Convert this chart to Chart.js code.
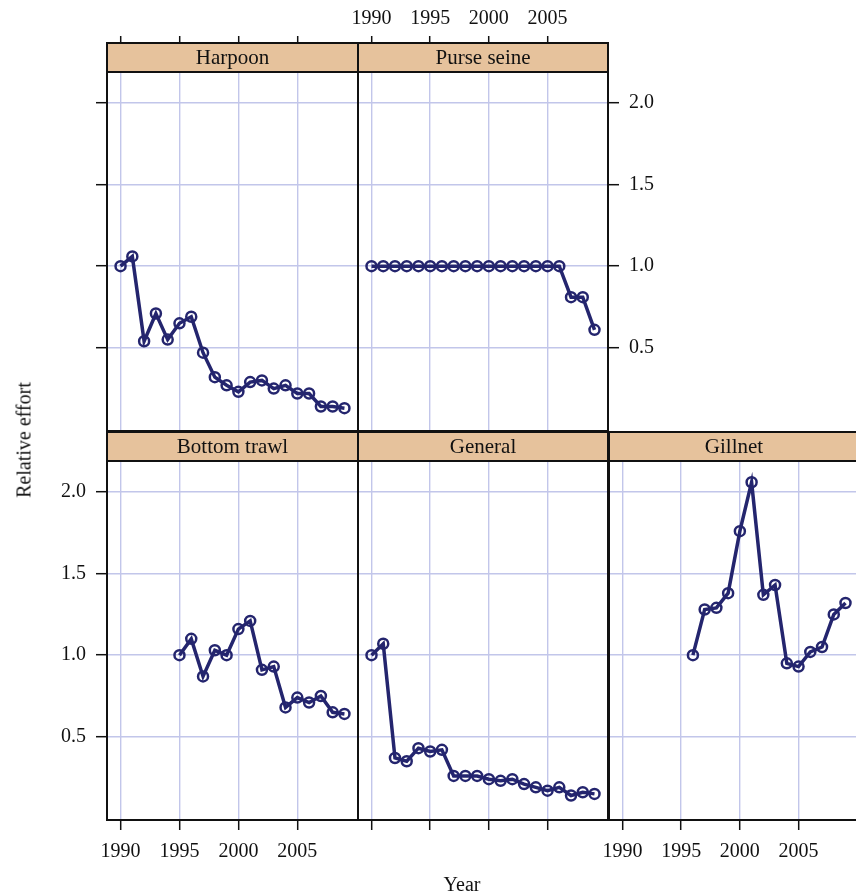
<!DOCTYPE html>
<html>
<head>
<meta charset="utf-8">
<script src="https://cdn.jsdelivr.net/npm/chart.js@4.4.0/dist/chart.umd.min.js"></script>
<style>
  html, body { margin: 0; padding: 0; background: #fff; overflow: hidden; width: 856px; height: 894px; }
  #wrap { position: relative; width: 856px; height: 894px; }
  canvas { position: absolute; left: 0; top: 0; }
  .axis-title { position: absolute; font-family: "Liberation Serif", serif; font-size: 20px; color: #111; white-space: nowrap; }
  #ylab { left: 24px; top: 440px; transform: translate(-50%, -50%) rotate(-90deg); }
  #xlab { left: 462px; top: 884px; transform: translate(-50%, -50%); }
</style>
</head>
<body>
<div id="wrap">
  <canvas id="p0" width="880" height="894"></canvas>
  <canvas id="p1" width="880" height="894"></canvas>
  <canvas id="p2" width="880" height="894"></canvas>
  <canvas id="p3" width="880" height="894"></canvas>
  <canvas id="p4" width="880" height="894"></canvas>
  <div class="axis-title" id="ylab">Relative effort</div>
  <div class="axis-title" id="xlab">Year</div>
</div>
<script>
// data
const years = [1990, 1991, 1992, 1993, 1994, 1995, 1996, 1997, 1998, 1999,
               2000, 2001, 2002, 2003, 2004, 2005, 2006, 2007, 2008, 2009];
const harpoon = [1.00, 1.06, 0.54, 0.71, 0.55, 0.65, 0.69, 0.47, 0.32, 0.27,
                 0.23, 0.29, 0.30, 0.25, 0.27, 0.22, 0.22, 0.14, 0.14, 0.13];
const purseSeine = [1.00, 1.00, 1.00, 1.00, 1.00, 1.00, 1.00, 1.00, 1.00, 1.00,
                    1.00, 1.00, 1.00, 1.00, 1.00, 1.00, 1.00, 0.81, 0.81, 0.61];
const bottomTrawl = [null, null, null, null, null, 1.00, 1.10, 0.87, 1.03, 1.00,
                     1.16, 1.21, 0.91, 0.93, 0.68, 0.74, 0.71, 0.75, 0.65, 0.64];
const general = [1.00, 1.07, 0.37, 0.35, 0.43, 0.41, 0.42, 0.26, 0.26, 0.26,
                 0.24, 0.23, 0.24, 0.21, 0.19, 0.17, 0.19, 0.14, 0.16, 0.15];
const gillnet = [null, null, null, null, null, null, 1.00, 1.28, 1.29, 1.38,
                 1.76, 2.06, 1.37, 1.43, 0.95, 0.93, 1.02, 1.05, 1.25, 1.32];
const xTicks = [1990, 1995, 2000, 2005];
const yTicks = [0.5, 1.0, 1.5, 2.0];

// layout
const W = 880, H = 894;
const colLeft = [107, 358, 609];
const colRight = [358, 608, 859];
const rowTop = [72, 461];
const rowBottom = [431, 820];
const stripH = 29;
const axisW = 60;   // room kept for y tick labels
const axisH = 60;   // room kept for x tick labels
const xMin = 1988.85, xMax = 2010.15;
const yMin = -0.01, yMax = 2.19;

const lineColor = '#24256e';
const gridColor = '#c2c6ea';
const stripColor = '#e6c29c';
const inkColor = '#111';
const tickFont = { family: '"Liberation Serif", serif', size: 20 };

const panels = [
    { id: 'p0', label: 'Harpoon', values: harpoon, col: 0, row: 0, top: 'ticks', left: 'ticks' },
    { id: 'p1', label: 'Purse seine', values: purseSeine, col: 1, row: 0, top: 'labels', right: 'labels' },
    { id: 'p2', label: 'Bottom trawl', values: bottomTrawl, col: 0, row: 1, bottom: 'labels', left: 'labels' },
    { id: 'p3', label: 'General', values: general, col: 1, row: 1, bottom: 'ticks' },
    { id: 'p4', label: 'Gillnet', values: gillnet, col: 2, row: 1, bottom: 'labels' }
];

// strip + panel border
const panelFrame = {
    id: 'panelFrame',
    afterDraw(chart, args, opts) {
        const { ctx, chartArea: a } = chart;
        const sTop = a.top - stripH;
        ctx.save();
        ctx.fillStyle = stripColor;
        ctx.fillRect(a.left, sTop, a.right - a.left, stripH);
        ctx.lineWidth = 2;
        ctx.strokeStyle = inkColor;
        ctx.strokeRect(a.left, sTop, a.right - a.left, stripH);
        ctx.strokeRect(a.left, a.top, a.right - a.left, a.bottom - a.top);
        ctx.fillStyle = inkColor;
        ctx.font = '21px "Liberation Serif", serif';
        ctx.textAlign = 'center';
        ctx.textBaseline = 'middle';
        ctx.fillText(opts.label, (a.left + a.right) / 2, sTop + stripH / 2 + 1);
        ctx.restore();
    }
};

function xScale(mode, position, size) {
    return {
        type: 'linear',
        position: position,
        min: xMin,
        max: xMax,
        afterBuildTicks: s => { s.ticks = xTicks.map(v => ({ value: v })); },
        afterFit: s => { s.height = size; },
        grid: {
            drawOnChartArea: position === 'bottom',
            color: gridColor,
            lineWidth: 1.4,
            drawTicks: !!mode,
            tickLength: position === 'top' ? 36 : 10,
            tickColor: inkColor,
            tickWidth: 1.5
        },
        border: { display: false },
        ticks: {
            display: mode === 'labels',
            padding: position === 'top' ? 5 : 10,
            font: tickFont,
            color: inkColor,
            maxRotation: 0,
            autoSkip: false,
            callback: v => String(v)
        }
    };
}

function yScale(mode, position, size) {
    return {
        type: 'linear',
        position: position,
        min: yMin,
        max: yMax,
        afterBuildTicks: s => { s.ticks = yTicks.map(v => ({ value: v })); },
        afterFit: s => { s.width = size; },
        grid: {
            drawOnChartArea: position === 'left',
            color: gridColor,
            lineWidth: 1.4,
            drawTicks: !!mode,
            tickLength: 11,
            tickColor: inkColor,
            tickWidth: 1.5
        },
        border: { display: false },
        ticks: {
            display: mode === 'labels',
            padding: 10,
            font: tickFont,
            color: inkColor,
            callback: v => v.toFixed(1)
        }
    };
}

panels.forEach(p => {
    const topH = p.top ? rowTop[p.row] : 0;
    const rightW = p.right ? axisW : 0;
    const scales = {
        x: xScale(p.bottom, 'bottom', axisH),
        y: yScale(p.left, 'left', axisW)
    };
    if (p.top) scales.x2 = xScale(p.top, 'top', topH);
    if (p.right) scales.y2 = yScale(p.right, 'right', rightW);

    const points = years
        .map((yr, i) => ({ x: yr, y: p.values[i] }))
        .filter(pt => pt.y !== null);

    new Chart(document.getElementById(p.id), {
        type: 'line',
        data: {
            datasets: [{
                data: points,
                borderColor: lineColor,
                borderWidth: 3.5,
                pointRadius: 5,
                pointBorderWidth: 2.5,
                pointBorderColor: lineColor,
                pointBackgroundColor: 'rgba(255,255,255,0)',
                tension: 0,
                clip: false
            }]
        },
        options: {
            responsive: false,
            animation: false,
            layout: {
                padding: {
                    left: colLeft[p.col] - axisW,
                    right: W - colRight[p.col] - rightW,
                    top: rowTop[p.row] - topH,
                    bottom: H - rowBottom[p.row] - axisH
                }
            },
            plugins: {
                legend: { display: false },
                tooltip: { enabled: false },
                panelFrame: { label: p.label }
            },
            scales: scales
        },
        plugins: [panelFrame]
    });
});
</script>
</body>
</html>
